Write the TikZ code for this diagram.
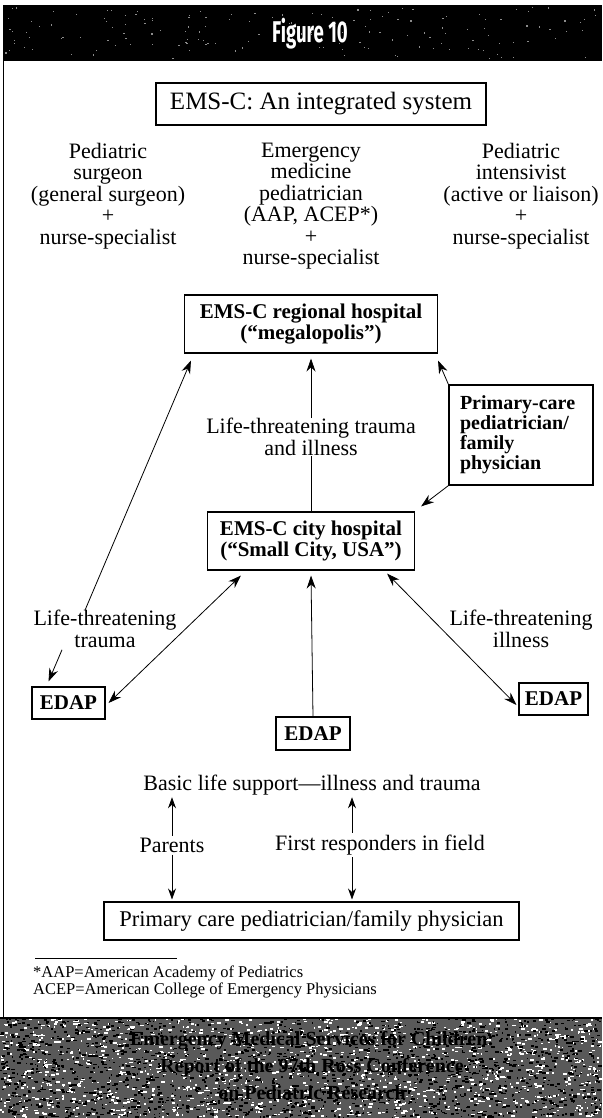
\documentclass[tikz,border=0pt]{standalone}
\usepackage{fontspec}
\setmainfont{Liberation Serif}
\newfontfamily\figfont{Fira Sans}
\usetikzlibrary{arrows.meta}
\begin{document}
\begin{tikzpicture}[x=1pt,y=-1pt,
  box/.style={draw, line width=1.1pt, inner sep=0pt, align=center, font=\bfseries\fontsize{21}{21.5}\selectfont},
  txt/.style={align=center, inner sep=0pt, font=\fontsize{22}{21.5}\selectfont},
  arr/.style={line width=0.8pt, -{Stealth[length=13pt,width=9pt]}},
  darr/.style={line width=0.8pt, {Stealth[length=13pt,width=9pt]}-{Stealth[length=13pt,width=9pt]}},
  sarr/.style={line width=0.8pt, -{Stealth[length=11pt,width=8pt]}, shorten >=2pt, shorten <=2pt},
  bandtxt/.style={align=center, inner sep=0pt, font=\bfseries\fontsize{20}{27}\selectfont},
]
\useasboundingbox (0,0) rectangle (602,1118);
\fill[white] (0,0) rectangle (602,1118);

% top band
\fill[black] (3,5) rectangle (602,61);
\pgfmathsetseed{11}
\foreach \i in {1,...,160}{
  \pgfmathsetmacro{\rx}{5+rnd*595}\pgfmathsetmacro{\ry}{7+rnd*52}
  \fill[black!45] (\rx,\ry) rectangle ++(1.2,1.2);
}
\node[font=\figfont\bfseries\fontsize{30}{30}\selectfont, text=white, inner sep=0pt] (fig) at (310,34) {\scalebox{0.62}[1]{Figure 10}};

% left frame line
\draw[line width=0.8pt] (3.5,61) -- (3.5,1017);

% title
\node[draw, line width=1.1pt, minimum width=330pt, minimum height=42pt, inner sep=0pt, font=\fontsize{25}{25}\selectfont] (title) at (321,104) {EMS-C: An integrated system};

% columns
\node[txt] (colL) at (108,196) {Pediatric\\surgeon\\(general surgeon)\\+\\nurse-specialist};
\node[txt] (colM) at (311,206) {Emergency\\medicine\\pediatrician\\(AAP, ACEP*)\\+\\nurse-specialist};
\node[txt] (colR) at (521,196) {Pediatric\\intensivist\\(active or liaison)\\+\\nurse-specialist};

% regional hospital
\node[box, minimum width=253pt, minimum height=58pt] (reg) at (311,324) {EMS-C regional hospital\\(“megalopolis”)};

% primary care box (right)
\node[box, font=\bfseries\fontsize{20}{20}\selectfont, align=left, text width=122pt, minimum width=144pt, minimum height=100pt] (pc) at (521,435) {Primary-care\\pediatrician/\\family\\physician};

% middle label
\node[txt] (mlbl) at (311,437) {Life-threatening trauma\\and illness};

% city hospital
\node[box, minimum width=207pt, minimum height=58pt] (city) at (311,541) {EMS-C city hospital\\(“Small City, USA”)};

% side labels
\node[txt] (ltl) at (105,629) {Life-threatening\\trauma};
\node[txt] (lti) at (521,629) {Life-threatening\\illness};

% EDAPs
\node[box, minimum width=73pt, minimum height=32pt] (edapL) at (68.5,703) {EDAP};
\node[box, minimum width=74pt, minimum height=33pt] (edapM) at (313,733.5) {EDAP};
\node[box, minimum width=69pt, minimum height=32pt] (edapR) at (553.5,699) {EDAP};

% bottom part
\node[txt] (basic) at (312,785) {Basic life support—illness and trauma};
\node[txt] (parents) at (172,845) {Parents};
\node[txt] (first) at (380,845) {First responders in field};
\node[box, font=\fontsize{22.5}{23}\selectfont, minimum width=415pt, minimum height=38pt] (pcb) at (311.5,921) {Primary care pediatrician/family physician};

% connectors
\draw[arr] ([xshift=-20pt]ltl.north) -- ([xshift=7pt,yshift=-7pt]reg.south west);
\draw (city.north) -- (mlbl.south);
\draw[arr] (mlbl.north) -- ([yshift=-5pt]reg.south);
\draw[arr] (pc.north west) -- ([yshift=-7pt]reg.south east);
\draw[arr] (pc.south west) -- ([xshift=6pt,yshift=5pt]city.north east);
\draw[darr] ([xshift=3pt]edapL.east) -- ([xshift=34pt,yshift=-5pt]city.south west);
\draw[arr] (edapM.north) -- ([yshift=-5pt]city.south);
\draw[darr] ([xshift=-2pt,yshift=-6pt]edapR.west) -- ([xshift=-28pt,yshift=-3pt]city.south east);
\draw[arr] ([xshift=-43pt,yshift=-2pt]ltl.south) -- ([xshift=-20pt,yshift=5pt]edapL.north);

\coordinate (pa) at (parents.north |- basic.south);
\draw[sarr] (parents.north) -- (pa);
\coordinate (fa) at ([xshift=-28pt]first.north);
\coordinate (fb) at (fa |- basic.south);
\draw[sarr] (fa) -- (fb);
\coordinate (pd) at (parents.south |- pcb.north);
\draw[sarr] (parents.south) -- (pd);
\coordinate (fc) at ([xshift=-28pt]first.south);
\coordinate (fd) at (fc |- pcb.north);
\draw[sarr] (fc) -- (fd);

% footnote
\coordinate (r1) at (35,958);
\coordinate (r2) at (177,958);
\draw[line width=0.8pt] (r1) -- (r2);
\node[anchor=north west, align=left, inner sep=0pt, font=\fontsize{16.5}{14.5}\selectfont] (fn) at (33,966) {*AAP=American Academy of Pediatrics\\ACEP=American College of Emergency Physicians};

% bottom band (mottled)
\fill[black!65] (0,1017) rectangle (602,1118);
\pgfmathsetseed{42}
\foreach \i in {1,...,1500}{
  \pgfmathsetmacro{\rx}{rnd*600}\pgfmathsetmacro{\ry}{1018+rnd*99}\pgfmathsetmacro{\rw}{1+rnd*3}
  \fill[white] (\rx,\ry) rectangle ++(\rw,1.6);
}
\foreach \i in {1,...,1900}{
  \pgfmathsetmacro{\rx}{rnd*600}\pgfmathsetmacro{\ry}{1018+rnd*99}\pgfmathsetmacro{\rw}{1+rnd*3}
  \fill[black] (\rx,\ry) rectangle ++(\rw,1.6);
}
\fill[black] (0,1017) rectangle (602,1019);
\node[bandtxt] (band) at (312,1066) {Emergency Medical Services for Children:\\Report of the 97th Ross Conference\\on Pediatric Research};
\end{tikzpicture}
\end{document}
